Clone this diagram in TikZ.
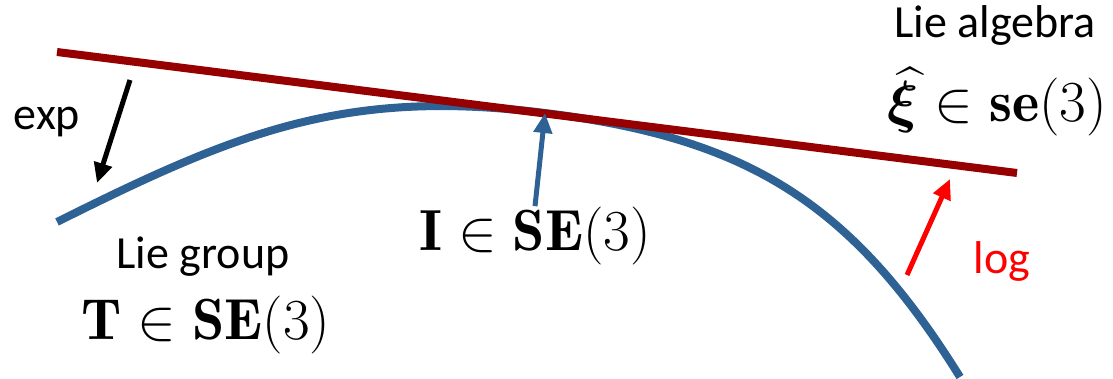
\RequirePackage{fix-cm}
\documentclass[tikz,border=0pt]{standalone}
\usepackage{amsmath, bm}
\usepackage{fontspec}
\newfontfamily\calibri{Carlito}
\usetikzlibrary{arrows.meta, positioning}
\definecolor{groupblue}{RGB}{46,98,148}
\definecolor{algebrared}{RGB}{150,0,0}
\pgfkeys{/tikz/.cd,
    overall style/.style={
        x=0.5pt, y=-0.5pt,          % 1 unit = 1 pixel of the picture
        >={Triangle[length=10pt, width=9pt]}
    },
    group curve/.style={draw=groupblue, line width=4pt},
    algebra line/.style={draw=algebrared, line width=4pt},
    map arrow/.style={->, line width=2.5pt},
    word/.style={font=\calibri\fontsize{23}{26}\selectfont, anchor=base, inner sep=0pt},
    formula/.style={font=\fontsize{29}{32}\selectfont, anchor=base, inner sep=0pt}
}

\begin{document}
\begin{tikzpicture}[overall style]
    \useasboundingbox (0,0) rectangle (1113,379);

    % --- 1. points of the curve and the tangent ---
    \coordinate (lineL) at (57,52);
    \coordinate (lineR) at (1017,173);
    \coordinate (curveL) at (57,222);
    \coordinate (touch) at (545,113);
    \coordinate (curveR) at (960,377);

    % --- 2. group (curve) and algebra (tangent line) ---
    \draw[group curve] (curveL) .. controls (237,132) and (345,88) .. (touch)
        .. controls (745,138) and (850,200) .. (curveR);
    \draw[algebra line] (lineL) -- (lineR);

    % --- 3. labels ---
    \node[word] (groupname) at (203,269) {Lie group};
    \node[formula] (groupelem) at (206,339) {$\mathbf{T}\in\mathbf{SE}(3)$};
    \node[word] (algname) at (995,38) {Lie algebra};
    \node[formula] (algelem) at (997,122) {$\widehat{\boldsymbol{\xi}}\in\mathbf{se}(3)$};
    \node[formula] (ident) at (535,250) {$\mathbf{I}\in\mathbf{SE}(3)$};
    \node[word] (expname) at (47,130) {exp};
    \node[word, text=red] (logname) at (1002,273) {log};

    % --- 4. maps ---
    \coordinate (expS) at (130,80);
    \coordinate (expE) at (97,183);
    \coordinate (logS) at (907,275);
    \coordinate (logE) at (950,179);

    \draw[map arrow] (expS) -- (expE);
    \draw[map arrow, groupblue] (ident.north) -- (touch);
    \draw[map arrow, red] (logS) -- (logE);

\end{tikzpicture}
\end{document}
